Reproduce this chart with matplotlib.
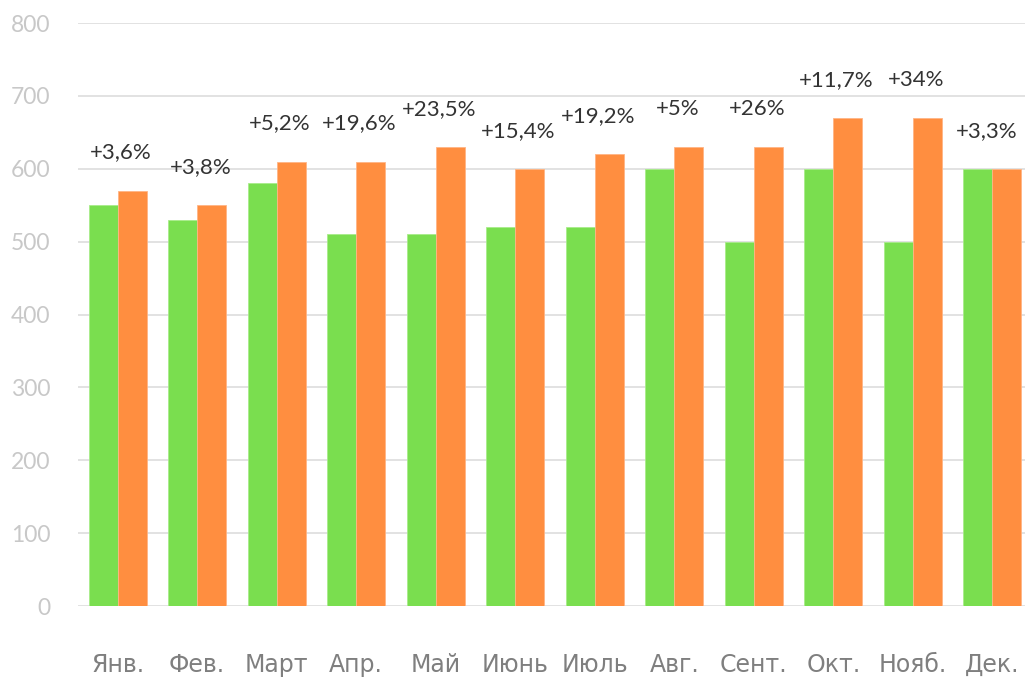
import numpy as np
import matplotlib.pyplot as plt

months = ["Янв.", "Фев.", "Март", "Апр.", "Май", "Июнь", "Июль", "Авг.", "Сент.", "Окт.", "Нояб.", "Дек."]
prev_year = [550, 530, 580, 510, 510, 520, 520, 600, 500, 600, 500, 600]
this_year = [570, 550, 610, 610, 630, 600, 620, 630, 630, 670, 670, 600]
growth = ["+3,6%", "+3,8%", "+5,2%", "+19,6%", "+23,5%", "+15,4%", "+19,2%",
          "+5%", "+26%", "+11,7%", "+34%", "+3,3%"]

plt.rcParams['font.family'] = ['Lato', 'DejaVu Sans']

fig = plt.figure(figsize=(10.25, 6.78), dpi=100)
ax = fig.add_axes([0.076, 0.106, 0.924, 0.86])

x = np.arange(len(months))
w = 0.365
ax.bar(x - w / 2, prev_year, w, color="#7ade4f", edgecolor="#a8ec8a", linewidth=0.6, zorder=3)
ax.bar(x + w / 2, this_year, w, color="#ff8e40", edgecolor="#ffb585", linewidth=0.6, zorder=3)

# подписи прироста над оранжевыми столбцами
for i, (v, txt) in enumerate(zip(this_year, growth)):
    dx = 0.04 if i < len(months) - 1 else -0.07  # последнюю подпись не у самого края
    ax.annotate(txt, (x[i] + dx, v), xytext=(0, 27.5), textcoords="offset points",
                ha="center", va="center", fontsize=16, color="#333333")

ax.set_ylim(0, 800)
ax.set_xlim(-0.5, 11.41)
ax.set_yticks(range(0, 801, 100))
ax.grid(axis="y", color="#e2e2e2", linewidth=1.4, zorder=0)
ax.set_xticks(x)
ax.set_xticklabels(months, fontsize=17, color="#7f7f7f", family="DejaVu Sans")
ax.tick_params(axis="x", length=0, pad=34)
ax.tick_params(axis="y", length=0, pad=20, labelsize=16.5, labelcolor="#c8c8c8")
for s in ax.spines.values():
    s.set_visible(False)

fig.savefig("out.png", dpi=100)
